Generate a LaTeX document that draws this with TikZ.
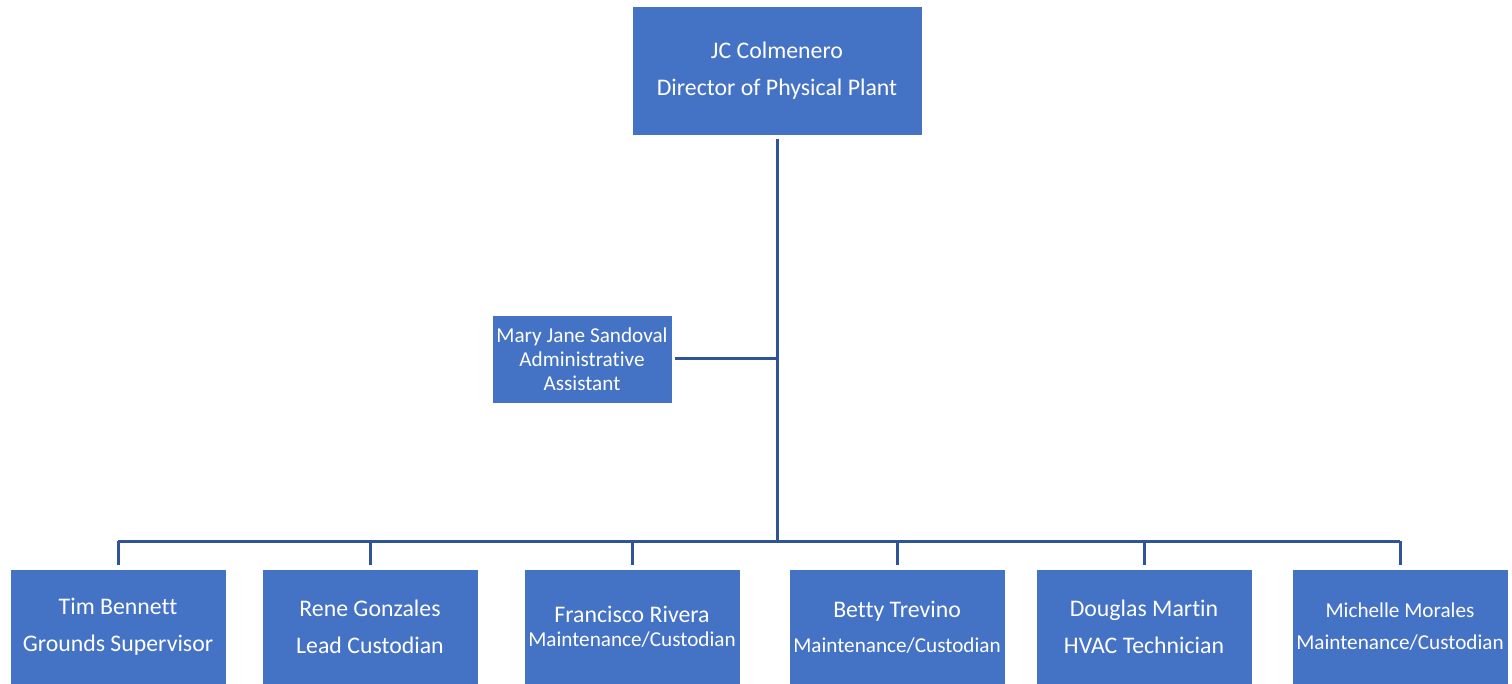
\documentclass[tikz,border=0pt]{standalone}
\usepackage{fontspec}
\setmainfont{Carlito}[Ligatures=CommonOff]
\usepackage{tikz}
\definecolor{boxblue}{HTML}{4472C4}
\definecolor{lineblue}{HTML}{2F5597}

\begin{document}
\begin{tikzpicture}[x=1pt,y=-1pt,
    every node/.style={rectangle,fill=boxblue,draw=white,line width=0.8pt,text=white,align=center,inner sep=0pt},
    big/.style={font=\fontsize{23.8}{37}\selectfont},
    small/.style={font=\fontsize{21.2}{24}\selectfont},
    staff/.style={minimum width=216,minimum height=116},
    conn/.style={draw=lineblue,line width=3pt}]
  \useasboundingbox (0,0) rectangle (1512,684);
  % director and assistant
  \node[big,minimum width=290,minimum height=129] (dir) at (777,70.5) {JC Colmenero\\Director of Physical Plant};
  \node[small,minimum width=180,minimum height=88] (asst) at (582,359) {Mary Jane Sandoval\\Administrative\\Assistant};
  % staff row
  \node[big,staff] (tim) at (118,627) {Tim Bennett\\Grounds Supervisor};
  \node[big,staff] (rene) at (370,627) {Rene Gonzales\\Lead Custodian};
  \node[staff,font=\fontsize{23.8}{24}\selectfont] (fran) at (632,627) {Francisco Rivera\\{\fontsize{21.2}{24}\selectfont Maintenance/Custodian}};
  \node[staff,font=\fontsize{23.8}{35}\selectfont] (betty) at (897,627) {Betty Trevino\\{\fontsize{21.2}{35}\selectfont Maintenance/Custodian}};
  \node[big,staff] (doug) at (1144,627) {Douglas Martin\\HVAC Technician};
  \node[staff,font=\fontsize{21.2}{32}\selectfont] (mich) at (1400,627) {Michelle Morales\\Maintenance/Custodian};
  \coordinate (bus) at (777,541);
  \coordinate (side) at (777,359);
  % connectors
  \draw[conn,shorten <=4pt] (dir.south) -- (bus);
  \draw[conn,shorten <=3pt] (asst.east) -- (side);
  \draw[conn] (tim.north |- bus) -- (mich.north |- bus);
  \foreach \s in {tim,rene,fran,betty,doug,mich}
    \draw[conn,shorten >=4pt] (\s.north |- bus) -- (\s.north);
\end{tikzpicture}
\end{document}
